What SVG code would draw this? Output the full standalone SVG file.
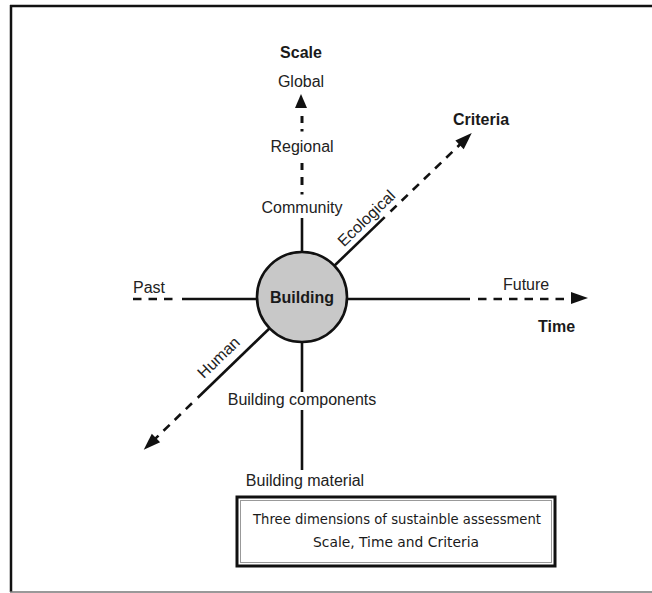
<svg xmlns="http://www.w3.org/2000/svg" width="652" height="593" viewBox="0 0 652 593">
<style>
  .lbl { font-family: "Liberation Sans", Arial, sans-serif; font-size: 16px; fill: #222; }
  .bold { font-family: "Liberation Sans", Arial, sans-serif; font-size: 16px; font-weight: bold; fill: #1a1a1a; }
  .cap { font-family: "DejaVu Sans", Verdana, sans-serif; font-size: 14.5px; fill: #1a1a1a; }
  .solid { stroke: #111; stroke-width: 2.6; fill: none; }
  .dash { stroke: #111; stroke-width: 2.6; fill: none; stroke-dasharray: 8.5 7; }
  .seg { stroke: #111; stroke-width: 3; fill: none; }
  .head { fill: #111; }
</style>
<rect x="0" y="0" width="652" height="593" fill="#fff"/>
<g id="frame">
  <line x1="10" y1="6" x2="652" y2="6" stroke="#111" stroke-width="2.5"/>
  <line x1="11" y1="5" x2="11" y2="592" stroke="#111" stroke-width="2.5"/>
  <line x1="10" y1="592" x2="652" y2="592" stroke="#777" stroke-width="1.5"/>
</g>
<g id="connectors">
  <line class="dash" x1="133" y1="299" x2="176" y2="299"/>
  <line class="solid" x1="182" y1="299" x2="257" y2="299"/>
  <line class="solid" x1="347" y1="299" x2="470" y2="299"/>
  <line class="dash" x1="478" y1="299" x2="572" y2="299"/>
  <polygon class="head" points="588,298 571,292 571,304"/>
  <line class="solid" x1="302" y1="252" x2="302" y2="218"/>
  <line class="seg" x1="302" y1="163" x2="302" y2="170"/>
  <line class="seg" x1="302" y1="177" x2="302" y2="185"/>
  <line class="seg" x1="302" y1="192" x2="302" y2="194.5"/>
  <line class="seg" x1="302" y1="116" x2="302" y2="123"/>
  <line class="seg" x1="302" y1="129" x2="302" y2="131.5"/>
  <polygon class="head" points="301,94 295,108 307,108"/>
  <line class="solid" x1="302" y1="342" x2="302" y2="392"/>
  <line class="solid" x1="302" y1="410" x2="302" y2="470"/>
  <g transform="translate(302,297) rotate(-44)">
    <line class="solid" x1="45" y1="0" x2="115" y2="0"/>
    <line class="dash" x1="123" y1="0" x2="222" y2="0"/>
    <polygon class="head" points="236,0 219,-6 219,6"/>
    <line class="solid" x1="-45" y1="0" x2="-145" y2="0"/>
    <line class="dash" x1="-153" y1="0" x2="-205" y2="0"/>
    <polygon class="head" points="-220,0 -203,-6 -203,6"/>
    <text class="lbl" x="101" y="-6.5" text-anchor="middle">Ecological</text>
    <text class="lbl" x="-102" y="-9" text-anchor="middle">Human</text>
  </g>
</g>
<g id="building">
  <circle cx="302" cy="297" r="45" fill="#c8c8c8" stroke="#111" stroke-width="2.6"/>
  <text class="bold" x="302" y="303" text-anchor="middle">Building</text>
</g>
<g id="scale-labels">
  <text class="bold" x="301" y="58" text-anchor="middle">Scale</text>
  <text class="lbl" x="301" y="87" text-anchor="middle">Global</text>
  <text class="lbl" x="302" y="152" text-anchor="middle">Regional</text>
  <text class="lbl" x="302" y="213" text-anchor="middle">Community</text>
  <text class="lbl" x="302" y="405" text-anchor="middle">Building components</text>
  <text class="lbl" x="305" y="486" text-anchor="middle">Building material</text>
</g>
<g id="time-labels">
  <text class="lbl" x="133" y="293">Past</text>
  <text class="lbl" x="503" y="290">Future</text>
  <text class="bold" x="538" y="332">Time</text>
</g>
<g id="criteria-label">
  <text class="bold" x="453" y="125">Criteria</text>
</g>
<g id="caption">
  <rect x="237" y="497" width="318" height="69" fill="#fff" stroke="#111" stroke-width="3"/>
  <rect x="240.5" y="500.5" width="311" height="62" fill="none" stroke="#999" stroke-width="1"/>
  <text class="cap" x="253" y="524" textLength="288" lengthAdjust="spacingAndGlyphs">Three dimensions of sustainble assessment</text>
  <text class="cap" x="313" y="547" textLength="166" lengthAdjust="spacingAndGlyphs">Scale, Time and Criteria</text>
</g>
</svg>
